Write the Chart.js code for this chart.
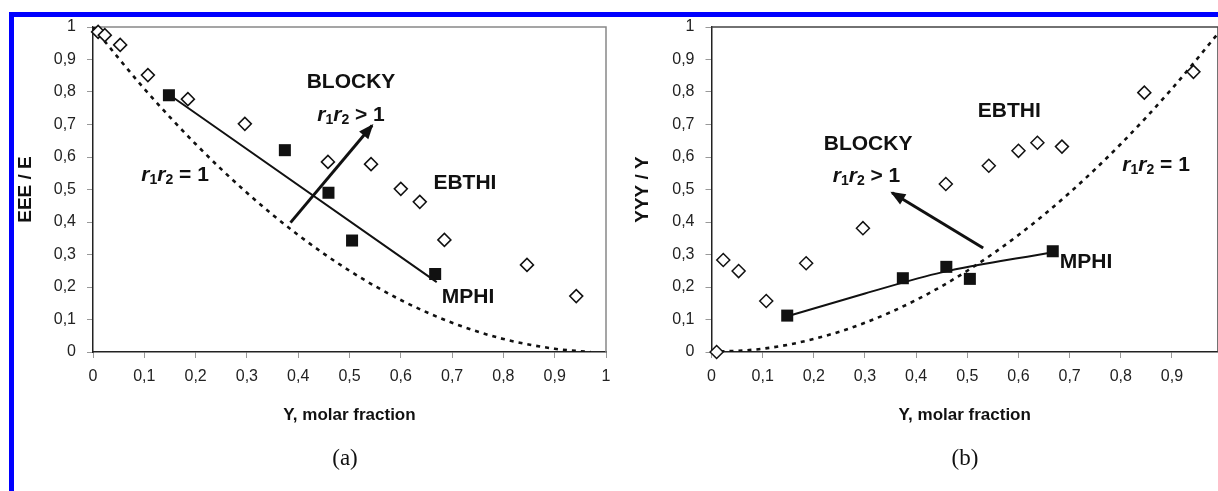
<!DOCTYPE html>
<html lang="en">
<head>
  <meta charset="UTF-8" />
  <title>Triad fractions vs molar fraction</title>
  <script src="https://cdn.jsdelivr.net/npm/chart.js"></script>
  <style>
    body {
      margin: 0;
      background: #fff;
      width: 1218px;
      height: 491px;
      overflow: hidden;
      position: relative;
      font-family: 'Liberation Sans', Arial, sans-serif;
    }
    .edge-top { position: absolute; left: 9px; top: 12px; width: 1209px; height: 5px; background: #0000ff; }
    .edge-left { position: absolute; left: 9px; top: 12px; width: 5px; height: 479px; background: #0000ff; }
    canvas { position: absolute; top: 0; }
    #chartA { left: 0; }
    #chartB { left: 620px; }
    .panel {
      position: absolute;
      top: 445px;
      transform: translateX(-50%);
      font-family: 'Liberation Serif', 'Times New Roman', serif;
      font-size: 23px;
      color: #111;
    }
  </style>
</head>
<body>
  <div class="edge-top"></div>
  <div class="edge-left"></div>
  <canvas id="chartA" width="620" height="491"></canvas>
  <canvas id="chartB" width="598" height="491"></canvas>
  <div class="panel" style="left:345px">(a)</div>
  <div class="panel" style="left:965px">(b)</div>

  <script>
    const FONT = "'Liberation Sans', Arial, sans-serif";

    // tick values and labels
    const tickVals = [0, 0.1, 0.2, 0.3, 0.4, 0.5, 0.6, 0.7, 0.8, 0.9, 1];
    const yTickLabels = ['0', '0,1', '0,2', '0,3', '0,4', '0,5', '0,6', '0,7', '0,8', '0,9', '1'];
    const xTickLabelsA = ['0', '0,1', '0,2', '0,3', '0,4', '0,5', '0,6', '0,7', '0,8', '0,9', '1'];
    const xTickLabelsB = ['0', '0,1', '0,2', '0,3', '0,4', '0,5', '0,6', '0,7', '0,8', '0,9'];

    // MPHI samples (filled squares)
    const mphiY = [0.148, 0.374, 0.459, 0.505, 0.667];
    const mphiEEE = [0.79, 0.621, 0.49, 0.343, 0.24];
    const mphiYYY = [0.112, 0.227, 0.262, 0.225, 0.31];

    // EBTHI samples (open diamonds)
    const ebthiY = [0.010, 0.023, 0.053, 0.107, 0.185, 0.296, 0.458, 0.542, 0.600, 0.637, 0.685, 0.846, 0.942];
    const ebthiEEE = [0.985, 0.975, 0.945, 0.852, 0.778, 0.702, 0.585, 0.578, 0.502, 0.462, 0.345, 0.268, 0.172];
    const ebthiYYY = [0.0, 0.283, 0.249, 0.157, 0.273, 0.381, 0.517, 0.573, 0.619, 0.644, 0.632, 0.798, 0.862];

    // r1r2 = 1 (Bernoullian) dotted curves
    const bernXA = [0, 0.1, 0.2, 0.3, 0.4, 0.5, 0.6, 0.7, 0.8, 0.9, 0.97];
    const bernEEE = [1, 0.81, 0.64, 0.49, 0.36, 0.25, 0.16, 0.09, 0.04, 0.01, 0.0];
    const bernXB = [0, 0.1, 0.2, 0.3, 0.4, 0.5, 0.6, 0.7, 0.8, 0.9, 0.99];
    const bernYYY = [0, 0.01, 0.04, 0.09, 0.16, 0.25, 0.36, 0.49, 0.64, 0.81, 0.98];

    // MPHI trend lines
    const fitXA = [0.15, 0.67];
    const fitEEE = [0.79, 0.215];
    const fitXB = [0.155, 0.3, 0.45, 0.667];
    const fitYYY = [0.113, 0.18, 0.245, 0.307];

    // arrows (tail -> tip)
    const arrowXA = [0.385, 0.544];
    const arrowYA = [0.398, 0.697];
    const arrowXB = [0.531, 0.353];
    const arrowYB = [0.32, 0.49];

    const labelsA = [
      { x: 0.503, y: 0.829, text: 'BLOCKY' },
      { x: 0.503, y: 0.729, ratio: ' > 1' },
      { x: 0.16, y: 0.545, ratio: ' = 1' },
      { x: 0.725, y: 0.518, text: 'EBTHI' },
      { x: 0.731, y: 0.169, text: 'MPHI' }
    ];
    const labelsB = [
      { x: 0.582, y: 0.74, text: 'EBTHI' },
      { x: 0.306, y: 0.64, text: 'BLOCKY' },
      { x: 0.303, y: 0.542, ratio: ' > 1' },
      { x: 0.869, y: 0.575, ratio: ' = 1' },
      { x: 0.732, y: 0.275, text: 'MPHI' }
    ];

    const pts = (xs, ys) => xs.map((x, i) => ({ x, y: ys[i] }));

    Chart.defaults.font.family = FONT;

    // r1r2 text pieces with subscripts
    function pieces(l) {
      if (!l.ratio) return [{ t: l.text, f: 'bold 21px ' + FONT, dy: 0 }];
      const main = 'bold 21px ' + FONT, it = 'italic bold 21px ' + FONT, sub = 'bold 14px ' + FONT;
      return [
        { t: 'r', f: it, dy: 0 }, { t: '1', f: sub, dy: 5 },
        { t: 'r', f: it, dy: 0 }, { t: '2', f: sub, dy: 5 },
        { t: l.ratio, f: main, dy: 0 }
      ];
    }

    const extras = {
      id: 'extras',
      beforeDatasetsDraw(chart) {
        const { ctx, chartArea: a } = chart;
        ctx.save();
        ctx.strokeStyle = chart.options.plugins.extras.frame;
        ctx.lineWidth = 1.5;
        ctx.beginPath();
        ctx.moveTo(a.left, a.top);
        ctx.lineTo(a.right, a.top);
        ctx.lineTo(a.right, a.bottom);
        ctx.stroke();
        ctx.restore();
      },
      afterDatasetsDraw(chart) {
        const { ctx, scales: { x, y } } = chart;
        ctx.save();
        // arrow heads
        chart.data.datasets.forEach((ds, i) => {
          if (!ds.arrowHead) return;
          const p = chart.getDatasetMeta(i).data;
          const a = p[p.length - 2], b = p[p.length - 1];
          const ang = Math.atan2(b.y - a.y, b.x - a.x);
          ctx.fillStyle = '#111';
          ctx.beginPath();
          ctx.moveTo(b.x + 2 * Math.cos(ang), b.y + 2 * Math.sin(ang));
          ctx.lineTo(b.x - 13 * Math.cos(ang) + 6 * Math.sin(ang), b.y - 13 * Math.sin(ang) - 6 * Math.cos(ang));
          ctx.lineTo(b.x - 13 * Math.cos(ang) - 6 * Math.sin(ang), b.y - 13 * Math.sin(ang) + 6 * Math.cos(ang));
          ctx.closePath();
          ctx.fill();
        });
        // text labels
        ctx.fillStyle = '#111';
        ctx.textBaseline = 'middle';
        ctx.textAlign = 'left';
        chart.options.plugins.extras.labels.forEach(l => {
          const parts = pieces(l);
          let w = 0;
          parts.forEach(p => { ctx.font = p.f; p.w = ctx.measureText(p.t).width; w += p.w; });
          let cx = x.getPixelForValue(l.x) - w / 2;
          const cy = y.getPixelForValue(l.y);
          parts.forEach(p => { ctx.font = p.f; ctx.fillText(p.t, cx, cy + p.dy); cx += p.w; });
        });
        ctx.restore();
      }
    };

    function makeChart(id, cfg) {
      const axisFont = { size: 16, family: FONT };
      return new Chart(document.getElementById(id), {
        type: 'scatter',
        data: {
          datasets: [
            { data: cfg.mphi, pointStyle: 'rect', pointRadius: 8.5, backgroundColor: '#111', borderColor: '#111', borderWidth: 0, clip: false },
            { data: cfg.ebthi, pointStyle: 'rectRot', pointRadius: 6.5, backgroundColor: '#fff', borderColor: '#111', borderWidth: 1.5, clip: false },
            { data: cfg.arrow, showLine: true, pointRadius: 0, borderColor: '#111', borderWidth: 3, arrowHead: true },
            { data: cfg.fit, showLine: true, pointRadius: 0, borderColor: '#111', borderWidth: 2, cubicInterpolationMode: 'monotone' },
            { data: cfg.bern, showLine: true, pointRadius: 0, borderColor: '#111', borderWidth: 2.6, borderDash: [4, 5], cubicInterpolationMode: 'monotone' }
          ]
        },
        options: {
          responsive: false,
          animation: false,
          devicePixelRatio: 1,
          // no extra room for marker radii: panel (b) runs right up to the edge
          layout: { autoPadding: false, padding: { top: 27, right: cfg.padRight, left: 0, bottom: 59 } },
          plugins: {
            legend: { display: false },
            tooltip: { enabled: false },
            extras: { labels: cfg.labels, frame: cfg.frame }
          },
          scales: {
            x: {
              type: 'linear', min: 0, max: cfg.xMax,
              ticks: {
                autoSkip: false, maxRotation: 0,
                color: '#222', font: axisFont, padding: 9,
                callback: (v, i) => cfg.xTicks[i]
              },
              // panel (b) is cut off before x = 1, so it only gets ticks up to 0,9
              afterBuildTicks: s => { s.ticks = tickVals.slice(0, cfg.xTicks.length).map(v => ({ value: v })); },
              grid: { drawOnChartArea: false, tickLength: 6, tickColor: '#999' },
              border: { color: '#222', width: 1.5 },
              title: { display: true, text: 'Y, molar fraction', color: '#111', font: { size: 17, weight: 'bold' }, padding: { bottom: 6 } },
              afterFit: s => { s.height = 80; }
            },
            y: {
              type: 'linear', min: 0, max: 1,
              ticks: {
                autoSkip: false, color: '#222', font: axisFont, padding: 11,
                callback: (v, i) => yTickLabels[i]
              },
              afterBuildTicks: s => { s.ticks = tickVals.map(v => ({ value: v })); },
              grid: { drawOnChartArea: false, tickLength: 6, tickColor: '#999' },
              border: { color: '#222', width: 1.5 },
              title: { display: true, text: cfg.yTitle, color: '#111', font: { size: 19, weight: 'bold' }, padding: { top: cfg.titlePad } },
              afterFit: s => { s.width = cfg.yWidth; }
            }
          }
        },
        plugins: [extras]
      });
    }

    makeChart('chartA', {
      mphi: pts(mphiY, mphiEEE),
      ebthi: pts(ebthiY, ebthiEEE),
      arrow: pts(arrowXA, arrowYA),
      fit: pts(fitXA, fitEEE),
      bern: pts(bernXA, bernEEE),
      labels: labelsA,
      xTicks: xTickLabelsA,
      xMax: 1,
      padRight: 14,
      yWidth: 93,
      yTitle: 'EEE / E',
      titlePad: 14,
      frame: '#888'
    });

    makeChart('chartB', {
      mphi: pts(mphiY, mphiYYY),
      ebthi: pts(ebthiY, ebthiYYY),
      arrow: pts(arrowXB, arrowYB),
      fit: pts(fitXB, fitYYY),
      bern: pts(bernXB, bernYYY),
      labels: labelsB,
      xTicks: xTickLabelsB,
      xMax: 0.99,
      padRight: 0,
      yWidth: 91.5,
      yTitle: 'YYY / Y',
      titlePad: 11,
      frame: '#444'
    });
  </script>
</body>
</html>
